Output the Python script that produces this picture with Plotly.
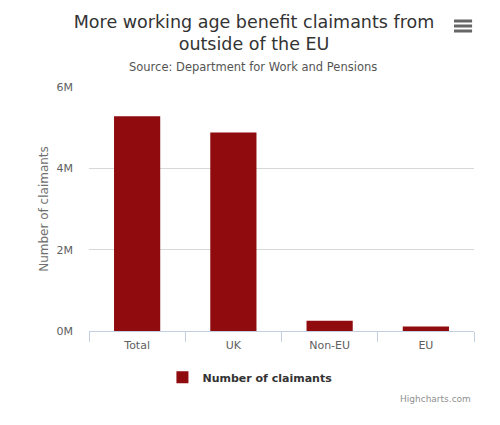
import plotly.graph_objects as go

# Dati (numero di richiedenti)
categories = ["Total", "UK", "Non-EU", "EU"]
claimants = [5280000, 4880000, 250000, 110000]
y_tick_values = [0, 2000000, 4000000, 6000000]
y_tick_labels = ["0M", "2M", "4M", "6M"]

FONT = "DejaVu Sans, Lucida Grande, sans-serif"
BAR_COLOR = "#8F0B0D"

fig = go.Figure()

fig.add_trace(go.Bar(
    x=categories,
    y=claimants,
    name="Number of claimants",
    marker=dict(color=BAR_COLOR, line=dict(width=0)),
    showlegend=True,
))

fig.update_layout(
    width=500,
    height=425,
    paper_bgcolor="white",
    plot_bgcolor="white",
    margin=dict(l=89, r=26, t=87, b=94),
    font=dict(family=FONT, color="#606060", size=11),
    bargap=0.52,
    title=dict(
        text="More working age benefit claimants from<br>outside of the EU",
        x=0.508, xanchor="center", y=0.935, yanchor="top",
        font=dict(family=FONT, size=17.5, color="#333333"),
    ),
    xaxis=dict(
        showgrid=False,
        showline=True, linecolor="#C0D0E0", linewidth=1,
        ticks="outside", tickson="boundaries", ticklen=10, tickcolor="#C0D0E0",
        ticklabelstandoff=4,
        tickfont=dict(size=11, color="#606060"),
        fixedrange=True,
    ),
    yaxis=dict(
        range=[0, 6000000],
        tickvals=y_tick_values,
        ticktext=y_tick_labels,
        showgrid=True, gridcolor="#D8D8D8", gridwidth=1,
        zeroline=False, showline=False,
        ticks="", ticklabelstandoff=15,
        tickfont=dict(size=11, color="#606060"),
        title=dict(text="Number of claimants", standoff=5,
                   font=dict(size=12, color="#707070")),
        fixedrange=True,
    ),
    legend=dict(
        orientation="h", x=0.418, xanchor="center", y=-0.13, yanchor="top",
        font=dict(size=11, color="#333333", weight="bold"),
        itemwidth=30,
    ),
    annotations=[
        dict(text="Source: Department for Work and Pensions",
             xref="paper", yref="paper", x=0.427, y=1.082, xanchor="center", yanchor="middle",
             showarrow=False, font=dict(size=11.5, color="#555555")),
        dict(text="Highcharts.com",
             xref="paper", yref="paper", x=0.998, y=-0.279, xanchor="right", yanchor="middle",
             showarrow=False, font=dict(size=9, color="#909090")),
    ],
    # icona del menu (tre barre)
    shapes=[
        dict(type="line", xref="paper", yref="paper", x0=0.948, x1=0.995, y0=y, y1=y,
             line=dict(color="#666666", width=3))
        for y in (1.2705, 1.25, 1.2295)
    ],
)

fig.write_html("out.html", config={"displayModeBar": False},
               post_script="document.body.style.margin='0';")
